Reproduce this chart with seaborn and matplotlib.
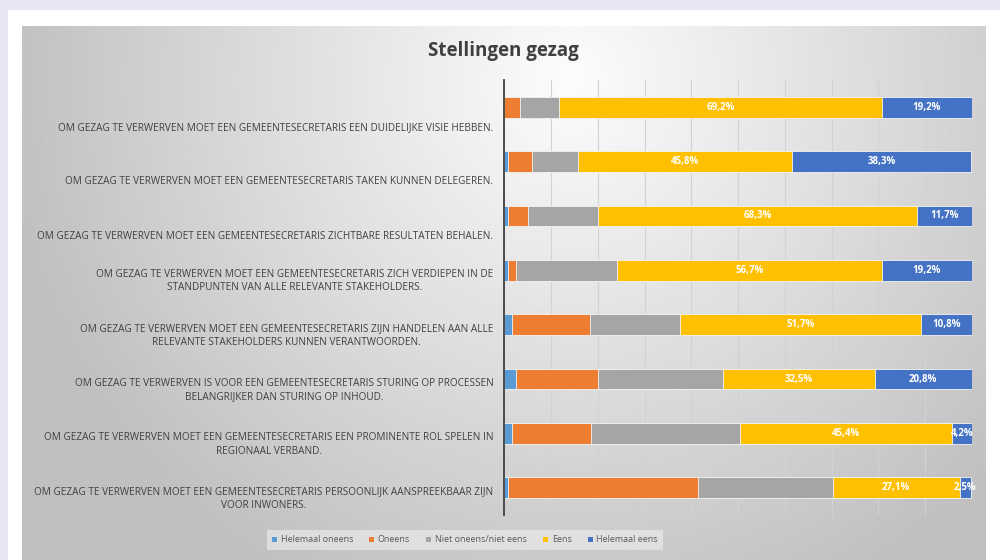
import numpy as np
import pandas as pd
import seaborn as sns
import matplotlib.pyplot as plt
from matplotlib.patches import Patch, Rectangle

sns.set_style("white")
plt.rcParams["font.family"] = ["Open Sans", "DejaVu Sans"]

# stellingen (van boven naar beneden)
stellingen = [
    "OM GEZAG TE VERWERVEN MOET EEN GEMEENTESECRETARIS EEN DUIDELIJKE VISIE HEBBEN.",
    "OM GEZAG TE VERWERVEN MOET EEN GEMEENTESECRETARIS TAKEN KUNNEN DELEGEREN.",
    "OM GEZAG TE VERWERVEN MOET EEN GEMEENTESECRETARIS ZICHTBARE RESULTATEN BEHALEN.",
    "OM GEZAG TE VERWERVEN MOET EEN GEMEENTESECRETARIS ZICH VERDIEPEN IN DE\nSTANDPUNTEN VAN ALLE RELEVANTE STAKEHOLDERS.",
    "OM GEZAG TE VERWERVEN MOET EEN GEMEENTESECRETARIS ZIJN HANDELEN AAN ALLE\nRELEVANTE STAKEHOLDERS KUNNEN VERANTWOORDEN.",
    "OM GEZAG TE VERWERVEN IS VOOR EEN GEMEENTESECRETARIS STURING OP PROCESSEN\nBELANGRIJKER DAN STURING OP INHOUD.",
    "OM GEZAG TE VERWERVEN MOET EEN GEMEENTESECRETARIS EEN PROMINENTE ROL SPELEN IN\nREGIONAAL VERBAND.",
    "OM GEZAG TE VERWERVEN MOET EEN GEMEENTESECRETARIS PERSOONLIJK AANSPREEKBAAR ZIJN\nVOOR INWONERS.",
]
categorieen = ["Helemaal oneens", "Oneens", "Niet oneens/niet eens", "Eens", "Helemaal eens"]

helemaal_oneens = [0.0, 0.8, 0.8, 0.8, 1.7, 2.5, 1.7, 0.8]
oneens = [3.3, 5.0, 4.2, 1.7, 16.7, 17.5, 16.8, 40.7]
niet_oneens = [8.3, 10.0, 15.0, 21.6, 19.1, 26.7, 31.9, 28.8]
eens = [69.2, 45.8, 68.3, 56.7, 51.7, 32.5, 45.4, 27.1]
helemaal_eens = [19.2, 38.3, 11.7, 19.2, 10.8, 20.8, 4.2, 2.5]

kleuren = ["#5B9BD5", "#ED7D31", "#A5A5A5", "#FFC000", "#4472C4"]

sleutels = ["S%d" % (i + 1) for i in range(len(stellingen))]
df = pd.DataFrame(
    dict(zip(categorieen, [helemaal_oneens, oneens, niet_oneens, eens, helemaal_eens])),
    index=sleutels,
)
cum = df.cumsum(axis=1)

fig = plt.figure(figsize=(10, 5.6), dpi=100)
fig.patch.set_facecolor("#e7e7f3")
fig.patches.append(Rectangle((0.008, 0), 0.992, 1 - 10 / 560, transform=fig.transFigure,
                             facecolor="white", edgecolor="none", zorder=-3))

# grijze achtergrond met verloop
bg = fig.add_axes([0.022, 0, 0.964, 1 - 26 / 560], zorder=-1)
gx, gy = np.meshgrid(np.linspace(0, 1, 300), np.linspace(0, 1, 200))
d = np.sqrt(((gx - 0.57) / 0.55) ** 2 + ((gy - 0.1) / 1.0) ** 2)
grad = np.clip(0.99 - 0.22 * d, 0.75, 1)
bg.imshow(grad, cmap="gray", vmin=0, vmax=1, aspect="auto", extent=[0, 1, 1, 0])
bg.axis("off")

ax = fig.add_axes([0.5045, 1 - 515 / 560, 0.4672, 435 / 560])
ax.set_facecolor("none")

# gestapelde balken: cumulatief, van groot naar klein
for cat, kleur in reversed(list(zip(categorieen, kleuren))):
    sns.barplot(x=cum[cat].values, y=sleutels, orient="h", color=kleur, saturation=1,
                width=0.38, edgecolor="#f4f4f4", linewidth=0.6, ax=ax, zorder=3)

for cat in ["Eens", "Helemaal eens"]:
    for i, k in enumerate(sleutels):
        v = df.loc[k, cat]
        ax.text(cum.loc[k, cat] - v / 2, i, ("%.1f%%" % v).replace(".", ","),
                ha="center", va="center", color="white", fontsize=7,
                fontweight="bold", zorder=5)

for i, s in enumerate(stellingen):
    verschuiving = 0.37 if "\n" not in s else 0.2
    ax.text(-0.024, i + verschuiving, s, transform=ax.get_yaxis_transform(),
            ha="right", va="center", multialignment="center", fontsize=7.2,
            color="#404040", linespacing=1.3)

ax.set_xlim(0, 100)
ax.set_xticks(np.arange(0, 101, 10))
ax.set_xticklabels([])
ax.set_yticklabels([])
ax.tick_params(length=0)
ax.set_xlabel("")
ax.set_ylabel("")
ax.grid(axis="x", color="#d2d2d2", linewidth=0.8, zorder=0)
ax.set_axisbelow(True)
for kant in ["top", "right", "bottom"]:
    ax.spines[kant].set_visible(False)
ax.spines["left"].set_color("#404040")
ax.spines["left"].set_linewidth(1.3)
ax.spines["left"].set_zorder(6)

fig.text(0.503, 1 - 51 / 560, "Stellingen gezag", ha="center", va="center",
         fontsize=13.5, fontweight="bold", color="#404040")

handles = [Patch(facecolor=k, edgecolor="none", label=c) for c, k in zip(categorieen, kleuren)]
leg = fig.legend(handles=handles, loc="center", bbox_to_anchor=(0.465, 1 - 540 / 560),
                 ncol=5, fontsize=6.5, frameon=True, fancybox=False, facecolor="#e9e9e9",
                 edgecolor="none", framealpha=0.7, handlelength=0.55, handleheight=0.55,
                 handletextpad=0.4, columnspacing=1.8, borderpad=0.6)
for t in leg.get_texts():
    t.set_color("#595959")

fig.savefig("out.png", dpi=100, facecolor=fig.get_facecolor())
